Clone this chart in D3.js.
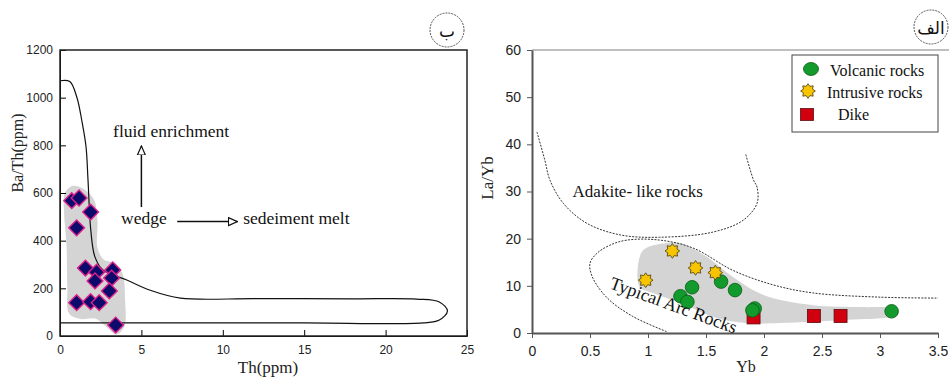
<!DOCTYPE html>
<html>
<head>
<meta charset="utf-8">
<script src="https://cdn.jsdelivr.net/npm/d3@7"></script>
<style>
  body { margin: 0; background: #fff; }
  svg { display: block; }
</style>
</head>
<body>
<div id="chart"></div>
<script>
// left panel: Ba/Th vs Th
const thTicks = [0, 5, 10, 15, 20, 25];
const baThTicks = [0, 200, 400, 600, 800, 1000, 1200];
const samplesTh = [0.72, 1.17, 1.88, 1.02, 1.56, 2.25, 2.15, 3.24, 3.17, 3.03, 1.02, 1.88, 2.41, 3.42];
const samplesBaTh = [568, 579, 520, 454, 285, 268, 231, 277, 243, 189, 140, 144, 140, 46];
// envelope and sample field
const envelope = [[0, 1071], [0.6, 1068], [1.03, 1003], [1.35, 900], [1.6, 793], [1.72, 655], [1.89, 445],
  [2.15, 331], [2.64, 277], [4.1, 235], [5.5, 193], [7.4, 159], [12, 157], [18, 156], [21.9, 155],
  [23.3, 143], [23.8, 105], [23.3, 67], [22.3, 55], [15, 55], [7, 55], [0, 55]];
const fieldLeft = [[0.3, 600], [0.8, 630], [1.5, 615], [2.1, 570], [2.3, 480], [2.3, 370], [2.7, 320],
  [3.4, 305], [3.85, 260], [4.0, 150], [3.95, 40], [3.45, 6], [2.9, 35], [2.2, 72],
  [1.2, 72], [0.55, 95], [0.45, 200], [0.4, 380], [0.25, 520]];

// right panel: La/Yb vs Yb
const ybTicks = [0, 0.5, 1, 1.5, 2, 2.5, 3, 3.5];
const laYbTicks = [0, 10, 20, 30, 40, 50, 60];
const volcanicYb = [1.28, 1.34, 1.38, 1.63, 1.75, 1.92, 1.90, 3.10];
const volcanicLaYb = [7.8, 6.6, 9.7, 10.9, 9.1, 5.2, 4.8, 4.6];
const intrusiveYb = [1.21, 1.41, 1.58, 0.98];
const intrusiveLaYb = [17.4, 13.8, 12.8, 11.2];
const dikeYb = [1.91, 2.43, 2.66];
const dikeLaYb = [3.3, 3.6, 3.6];
const legendLabels = ["Volcanic rocks", "Intrusive rocks", "Dike"];
const adakite = [[0.043, 42.6], [0.11, 36.7], [0.155, 32.4], [0.27, 27.5], [0.47, 23.3], [0.76, 20.8],
  [1.10, 20.3], [1.56, 21.4], [1.82, 23.9], [1.94, 27.5], [1.94, 30.9], [1.91, 32.4], [1.84, 38.1]];
const arc = [[1.16, 0.3], [0.87, 3.5], [0.65, 7.4], [0.52, 11.9], [0.5, 14.8], [0.56, 16.9], [0.67, 18.6],
  [0.82, 19.7], [1.10, 19.7], [1.39, 18.0], [1.73, 13.3], [2.08, 10.2], [2.42, 8.5], [3.0, 7.6], [3.5, 7.4]];
const fieldRight = [[0.96, 17.6], [1.16, 19.1], [1.28, 19.1], [1.51, 16.1], [1.73, 11.9], [1.99, 8.1],
  [2.42, 5.9], [2.85, 5.5], [3.09, 5.3], [3.16, 4.2], [3.09, 3.4], [2.72, 2.8], [2.14, 2.1], [1.85, 2.1],
  [1.56, 3.4], [1.28, 6.4], [1.04, 8.5], [0.93, 9.7], [0.91, 13.3]];

const W = 949, H = 378;
const serif = "Liberation Serif, Times New Roman, serif";
const sans = "Liberation Sans, Arial, sans-serif";

const svg = d3.select("#chart").append("svg").attr("width", W).attr("height", H);

// ---------- left panel ----------
const xL = d3.scaleLinear().domain([0, 25]).range([60, 467]);
const yL = d3.scaleLinear().domain([0, 1200]).range([336, 50]);
const left = svg.append("g");

const lineL = d3.line().x(d => xL(d[0])).y(d => yL(d[1]));

left.append("path")
  .attr("d", lineL.curve(d3.curveCatmullRomClosed.alpha(0.5))(fieldLeft))
  .attr("fill", "#d4d4d4");

left.append("path")
  .attr("d", lineL.curve(d3.curveCatmullRom)(envelope))
  .attr("fill", "none").attr("stroke", "#111").attr("stroke-width", 1.2);

left.append("g")
  .attr("transform", `translate(0,${yL(0)})`)
  .call(d3.axisBottom(xL).tickValues(thTicks).tickFormat(d3.format("d")).tickSize(-6).tickSizeOuter(0).tickPadding(9))
  .call(g => g.selectAll("text").attr("font-family", sans).attr("font-size", 12).attr("fill", "#222"));

left.append("g")
  .attr("transform", `translate(${xL(0)},0)`)
  .call(d3.axisLeft(yL).tickValues(baThTicks).tickFormat(d3.format("d")).tickSize(-6).tickSizeOuter(0).tickPadding(7))
  .call(g => g.selectAll("text").attr("font-family", sans).attr("font-size", 12).attr("fill", "#222"));

left.append("rect")
  .attr("x", xL(0)).attr("y", yL(1200))
  .attr("width", xL(25) - xL(0)).attr("height", yL(0) - yL(1200))
  .attr("fill", "none").attr("stroke", "#222").attr("stroke-width", 1.5);

left.selectAll(".dia").data(samplesTh).enter().append("path")
  .attr("class", "dia")
  .attr("transform", (d, i) => `translate(${xL(d)},${yL(samplesBaTh[i])}) rotate(45)`)
  .attr("d", d3.symbol().type(d3.symbolSquare).size(125)())
  .attr("fill", "#0c0a6a").attr("stroke", "#e0208c").attr("stroke-width", 1.4);

// annotations
const defs = svg.append("defs");
defs.append("marker").attr("id", "openHead")
  .attr("viewBox", "0 0 10 10").attr("refX", 9).attr("refY", 5)
  .attr("markerWidth", 10).attr("markerHeight", 10).attr("markerUnits", "userSpaceOnUse")
  .attr("orient", "auto")
  .append("path").attr("d", "M0,1 L9,5 L0,9 Z")
  .attr("fill", "#fff").attr("stroke", "#111").attr("stroke-width", 1.2);

left.append("line")
  .attr("x1", xL(5)).attr("y1", yL(541)).attr("x2", xL(5)).attr("y2", yL(797))
  .attr("stroke", "#111").attr("stroke-width", 1.5).attr("marker-end", "url(#openHead)");
left.append("line")
  .attr("x1", xL(7.2)).attr("y1", yL(480)).attr("x2", xL(10.9)).attr("y2", yL(480))
  .attr("stroke", "#111").attr("stroke-width", 1.5).attr("marker-end", "url(#openHead)");

const notesL = [["fluid enrichment", 3.26, 860], ["wedge", 3.75, 495], ["sedeiment melt", 11.25, 495]];
left.selectAll(".note").data(notesL).enter().append("text")
  .attr("x", d => xL(d[1])).attr("y", d => yL(d[2]))
  .attr("dominant-baseline", "central")
  .attr("font-family", serif).attr("font-size", 17.5).attr("fill", "#111")
  .text(d => d[0]);

left.append("text")
  .attr("transform", `translate(17,${153}) rotate(-90)`)
  .attr("text-anchor", "middle").attr("dominant-baseline", "central")
  .attr("font-family", serif).attr("font-size", 16).attr("fill", "#222")
  .text("Ba/Th(ppm)");
left.append("text")
  .attr("x", 268).attr("y", 373).attr("text-anchor", "middle")
  .attr("font-family", serif).attr("font-size", 17).attr("fill", "#222")
  .text("Th(ppm)");

// ---------- right panel ----------
const xR = d3.scaleLinear().domain([0, 3.5]).range([532, 938]);
const yR = d3.scaleLinear().domain([0, 60]).range([333, 50]);
const right = svg.append("g");
const lineR = d3.line().x(d => xR(d[0])).y(d => yR(d[1]));

right.append("path")
  .attr("d", lineR.curve(d3.curveCatmullRomClosed)(fieldRight))
  .attr("fill", "#d4d4d4");

[adakite, arc].forEach(pts => {
  right.append("path")
    .attr("d", lineR.curve(d3.curveCatmullRom)(pts))
    .attr("fill", "none").attr("stroke", "#333").attr("stroke-width", 1)
    .attr("stroke-dasharray", "2,1.3");
});

right.append("line")
  .attr("x1", xR(0)).attr("y1", yR(60)).attr("x2", W).attr("y2", yR(60))
  .attr("stroke", "#aaa").attr("stroke-width", 1.5);

right.append("g")
  .attr("transform", `translate(0,${yR(0)})`)
  .call(d3.axisBottom(xR).tickValues(ybTicks).tickFormat(d => String(d)).tickSize(5).tickSizeOuter(0).tickPadding(8))
  .call(g => g.select(".domain").attr("stroke", "#555").attr("stroke-width", 2))
  .call(g => g.selectAll(".tick line").attr("stroke", "#555"))
  .call(g => g.selectAll("text").attr("font-family", sans).attr("font-size", 14).attr("fill", "#222"));

right.append("g")
  .attr("transform", `translate(${xR(0)},0)`)
  .call(d3.axisLeft(yR).tickValues(laYbTicks).tickSize(5).tickSizeOuter(0).tickPadding(6))
  .call(g => g.select(".domain").attr("stroke", "#555").attr("stroke-width", 2))
  .call(g => g.selectAll(".tick line").attr("stroke", "#555"))
  .call(g => g.selectAll("text").attr("font-family", sans).attr("font-size", 14).attr("fill", "#222"));

// 8-spike burst for intrusive rocks
const burst = {
  draw(ctx, size) {
    const ro = Math.sqrt(size) * 0.62, ri = ro * 0.68, n = 8;
    for (let k = 0; k < n * 2; k++) {
      const r = k % 2 ? ri : ro, a = Math.PI * k / n;
      k ? ctx.lineTo(r * Math.sin(a), -r * Math.cos(a)) : ctx.moveTo(0, -ro);
    }
    ctx.closePath();
  }
};

right.selectAll(".dike").data(dikeYb).enter().append("rect")
  .attr("x", d => xR(d) - 6.5).attr("y", (d, i) => yR(dikeLaYb[i]) - 6.5)
  .attr("width", 13).attr("height", 13)
  .attr("fill", "#d0000f").attr("stroke", "#5a1010").attr("stroke-width", 0.8);

right.selectAll(".vol").data(volcanicYb).enter().append("circle")
  .attr("cx", d => xR(d)).attr("cy", (d, i) => yR(volcanicLaYb[i]))
  .attr("r", 6.8)
  .attr("fill", "#129a2c").attr("stroke", "#0b5a16").attr("stroke-width", 0.8);

right.selectAll(".intr").data(intrusiveYb).enter().append("path")
  .attr("transform", (d, i) => `translate(${xR(d)},${yR(intrusiveLaYb[i])})`)
  .attr("d", d3.symbol().type(burst).size(140)())
  .attr("fill", "#f6c400").attr("stroke", "#5a4a10").attr("stroke-width", 0.9);

right.append("text")
  .attr("x", xR(0.35)).attr("y", yR(29.9))
  .attr("dominant-baseline", "central")
  .attr("font-family", serif).attr("font-size", 17).attr("fill", "#111")
  .text("Adakite- like rocks");
right.append("text")
  .attr("transform", `translate(${xR(1.22)},${yR(5.9)}) rotate(20)`)
  .attr("text-anchor", "middle").attr("dominant-baseline", "central")
  .attr("font-family", serif).attr("font-size", 18).attr("fill", "#111")
  .text("Typical Arc Rocks");

right.append("text")
  .attr("transform", `translate(487,178) rotate(-90)`)
  .attr("text-anchor", "middle").attr("dominant-baseline", "central")
  .attr("font-family", serif).attr("font-size", 17).attr("fill", "#222")
  .text("La/Yb");
right.append("text")
  .attr("x", 746).attr("y", 372).attr("text-anchor", "middle")
  .attr("font-family", serif).attr("font-size", 16).attr("fill", "#222")
  .text("Yb");

// legend
const lg = right.append("g");
lg.append("rect").attr("x", 792).attr("y", 55).attr("width", 146).attr("height", 77)
  .attr("fill", "#fff").attr("stroke", "#444").attr("stroke-width", 1);
lg.append("ellipse").attr("cx", 811).attr("cy", 69).attr("rx", 7.5).attr("ry", 6.5)
  .attr("fill", "#129a2c").attr("stroke", "#0b5a16").attr("stroke-width", 0.8);
lg.append("path").attr("transform", "translate(808,91)")
  .attr("d", d3.symbol().type(burst).size(140)())
  .attr("fill", "#f6c400").attr("stroke", "#5a4a10").attr("stroke-width", 0.9);
lg.append("rect").attr("x", 800.5).attr("y", 108.5).attr("width", 13).attr("height", 12)
  .attr("fill", "#d0000f").attr("stroke", "#5a1010").attr("stroke-width", 0.8);
const legendX = [830, 827, 838], legendY = [70, 92, 114];
lg.selectAll(".lt").data(legendLabels).enter().append("text")
  .attr("x", (d, i) => legendX[i]).attr("y", (d, i) => legendY[i])
  .attr("dominant-baseline", "central")
  .attr("font-family", serif).attr("font-size", 16).attr("fill", "#111")
  .text(d => d);

// panel tags in dotted circles
const tags = [["ب", 447, 30], ["الف", 931, 27]];
tags.forEach(t => {
  svg.append("circle").attr("cx", t[1]).attr("cy", t[2]).attr("r", 17)
    .attr("fill", "none").attr("stroke", "#444").attr("stroke-width", 0.9).attr("stroke-dasharray", "2,1");
  svg.append("text").attr("x", t[1]).attr("y", t[2] + 1)
    .attr("text-anchor", "middle").attr("dominant-baseline", "central")
    .attr("font-family", "DejaVu Sans").attr("font-size", 17).attr("fill", "#111")
    .text(t[0]);
});
</script>
</body>
</html>
